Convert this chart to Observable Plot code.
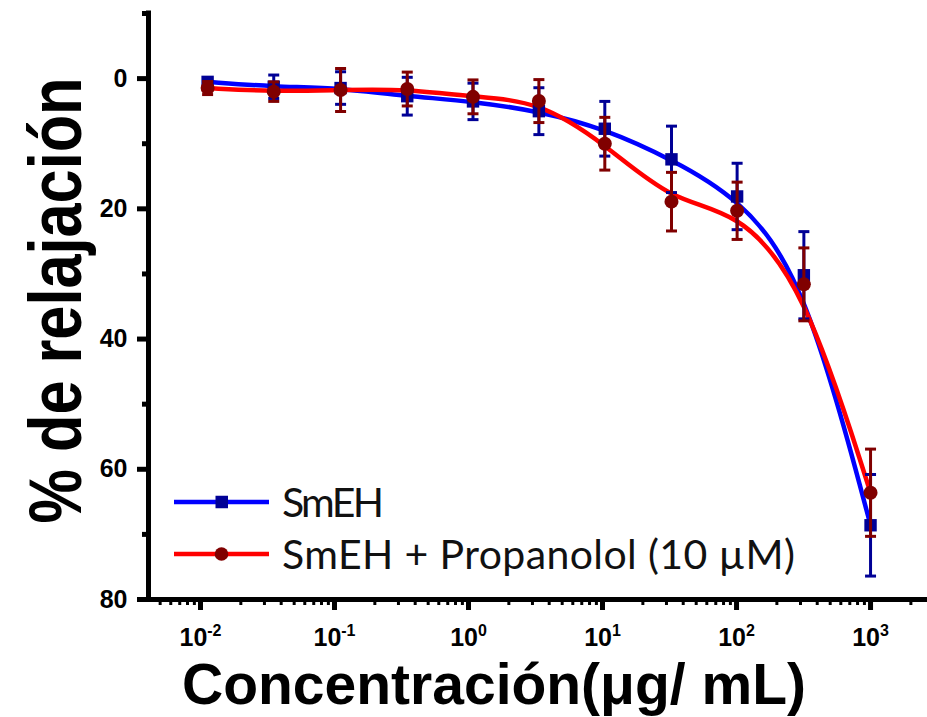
<!DOCTYPE html>
<html><head><meta charset="utf-8">
<script src="https://cdn.jsdelivr.net/npm/d3@7"></script>
<script src="https://cdn.jsdelivr.net/npm/@observablehq/plot@0.6"></script>
<style>body{margin:0;background:#fff} #chart{position:relative;width:927px;height:717px}</style>
</head><body><div id="chart"></div>
<script>
// ---- data ----
const concentrations = [0.0113, 0.0352, 0.111, 0.349, 1.08, 3.35, 10.4, 32.7, 101, 318, 1000];
const smeh      = [0.5, 1.25, 1.45, 2.7, 3.5, 5.0, 7.7, 12.4, 18.1, 30.2, 68.6];
const smehErr   = [0.5, 1.8, 2.5, 2.9, 2.8, 3.6, 4.2, 5.1, 5.1, 6.7, 7.8];
const prop      = [1.45, 2.0, 1.75, 1.6, 2.8, 3.45, 10.0, 18.9, 20.3, 31.6, 63.6];
const propErr   = [1.0, 1.5, 3.3, 2.6, 2.6, 3.3, 4.05, 4.5, 4.4, 5.6, 6.7];
const seriesNames = ["SmEH", "SmEH + Propanolol (10 µM)"];
const majorExponents = [-2, -1, 0, 1, 2, 3];
const yMajorTicks = [0, 20, 40, 60, 80];
const yMinorTicks = [-10, 10, 30, 50, 70];
const yTitle = "% de relajación";
const xTitle = "Concentración(μg/ mL)";

// ---- styling ----
const lineColors = ["#0000ff", "#ff0000"];
const markColors = ["#000096", "#800000"];
const xDomain = [Math.pow(10, -2.388), Math.pow(10, 3.425)];
const yDomain = [-10, 80];

const rows = (vals, errs) => concentrations.map((c, i) => ({conc: c, v: vals[i], lo: vals[i] - errs[i], hi: vals[i] + errs[i]}));
const blue = rows(smeh, smehErr);
const red = rows(prop, propErr);

const majorTicks = majorExponents.map(e => Math.pow(10, e));
const minorTicks = [];
for (let e = -3; e <= 3; e++) for (let m = 2; m <= 9; m++) {
  const v = m * Math.pow(10, e);
  if (v >= xDomain[0] && v <= xDomain[1]) minorTicks.push(v);
}

const capSymbol = {draw(ctx, size) { const w = Math.sqrt(size / Math.PI); ctx.moveTo(-w, 0); ctx.lineTo(w, 0); }};

function errorMarks(data, color) {
  return [
    Plot.ruleX(data, {x: "conc", y1: "lo", y2: "hi", stroke: color, strokeWidth: 3}),
    Plot.dot(data, {x: "conc", y: "lo", symbol: capSymbol, r: 5.5, stroke: color, strokeWidth: 3, fill: "none"}),
    Plot.dot(data, {x: "conc", y: "hi", symbol: capSymbol, r: 5.5, stroke: color, strokeWidth: 3, fill: "none"})
  ];
}

const svg = Plot.plot({
  width: 927, height: 717,
  marginLeft: 148, marginRight: 0, marginTop: 13, marginBottom: 118,
  style: {fontFamily: "'Liberation Sans', Arial, sans-serif", background: "#fff", color: "#000"},
  x: {type: "log", domain: xDomain},
  y: {domain: yDomain, reverse: true},
  marks: [
    Plot.line(blue, {x: "conc", y: "v", curve: "basis", stroke: lineColors[0], strokeWidth: 4.5}),
    Plot.line(red, {x: "conc", y: "v", curve: "basis", stroke: lineColors[1], strokeWidth: 4.5}),
    ...errorMarks(blue, markColors[0]),
    Plot.dot(blue, {x: "conc", y: "v", symbol: "square", r: 7, fill: markColors[0], stroke: "none"}),
    ...errorMarks(red, markColors[1]),
    Plot.dot(red, {x: "conc", y: "v", symbol: "circle", r: 7, fill: markColors[1], stroke: "none"}),
    Plot.axisY({ticks: yMajorTicks, tickSize: 11, tickPadding: 10, strokeWidth: 5, fontSize: 25, fontWeight: "bold", label: null}),
    Plot.axisY({ticks: yMinorTicks, tickSize: 6, strokeWidth: 5, tickFormat: () => "", label: null}),
    Plot.axisX({ticks: majorTicks, tickSize: 11, tickPadding: 18, strokeWidth: 5, fontSize: 25, fontWeight: "bold", tickFormat: () => "10", label: null}),
    Plot.axisX({ticks: minorTicks, tickSize: 6, strokeWidth: 3, tickFormat: () => "", label: null}),
    Plot.ruleX([xDomain[0]], {strokeWidth: 5, strokeLinecap: "square"}),
    Plot.ruleY([yDomain[1]], {strokeWidth: 5, strokeLinecap: "square"}),
    Plot.text([yTitle], {text: d => d, frameAnchor: "left", textAnchor: "middle", rotate: -90, dx: -68, dy: -6, fontSize: 74, fontWeight: "bold", lineAnchor: "bottom"}),
    Plot.text([xTitle], {text: d => d, frameAnchor: "bottom", textAnchor: "middle", dx: -44, dy: 104, fontSize: 57, fontWeight: "bold", lineAnchor: "bottom"})
  ]
});
document.getElementById("chart").appendChild(svg);

const s = d3.select(svg);
// tick label font (set on each label)
s.selectAll('g[aria-label="x-axis tick label"] text, g[aria-label="y-axis tick label"] text')
  .attr("font-size", 25).attr("font-weight", "bold").style("font-size", "25px").style("font-weight", "bold");
// superscript exponents on the x tick labels
s.selectAll('g[aria-label="x-axis tick label"] text')
  .filter(function() { return this.textContent === "10"; })
  .each(function(_, i) {
    d3.select(this).append("tspan").attr("dy", -10).style("font-size", "16px").text(String(majorExponents[i]));
  });
// compressed y title (as in the reference)
s.selectAll("text").filter(function() { return this.textContent === yTitle; })
  .attr("textLength", 446).attr("lengthAdjust", "spacingAndGlyphs");

// legend inside the frame
const leg = s.append("g").attr("font-family", "Lato, sans-serif").attr("font-size", 41).attr("text-anchor", "start");
const legendRows = [502, 554];
const legendWidths = [102, 513];
seriesNames.forEach((name, i) => {
  const g = leg.append("g").attr("transform", `translate(174,${legendRows[i]})`);
  g.append("line").attr("x1", 0).attr("x2", 95).attr("stroke", lineColors[i]).attr("stroke-width", 4.5);
  if (i === 0) g.append("rect").attr("x", 41.5).attr("y", -6.25).attr("width", 12.5).attr("height", 12.5).attr("fill", markColors[i]);
  else g.append("circle").attr("cx", 47.5).attr("r", 6.8).attr("fill", markColors[i]);
  g.append("text").attr("x", 108).attr("y", 14.5).attr("fill", "#111").attr("text-anchor", "start")
    .attr("textLength", legendWidths[i]).attr("lengthAdjust", "spacing").text(name);
});
</script></body></html>
